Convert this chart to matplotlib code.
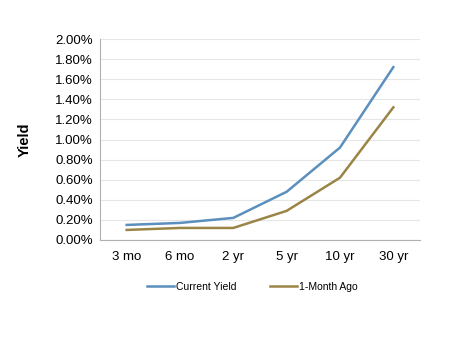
import matplotlib
matplotlib.use("Agg")
import matplotlib.pyplot as plt
from matplotlib.ticker import FuncFormatter

categories = ["3 mo", "6 mo", "2 yr", "5 yr", "10 yr", "30 yr"]
current_yield = [0.15, 0.17, 0.22, 0.48, 0.92, 1.72]
month_ago = [0.10, 0.12, 0.12, 0.29, 0.62, 1.32]

plt.rcParams['font.family'] = ['Liberation Sans', 'DejaVu Sans']

fig = plt.figure(figsize=(4.5, 3.41), dpi=100)
ax = fig.add_axes([100/450, 1-240/341, 320/450, 201/341])

x = list(range(len(categories)))
ax.plot(x, current_yield, color="#5b8fbd", lw=1.8, label="Current Yield")
ax.plot(x, month_ago, color="#9a8446", lw=1.8, label="1-Month Ago")

ax.set_xlim(-0.5, len(categories) - 0.5)
ax.set_ylim(0, 2.0)
ax.set_yticks([i * 0.2 for i in range(11)])
ax.yaxis.set_major_formatter(FuncFormatter(lambda v, p: f"{v:.2f}%"))
ax.set_xticks(x)
ax.set_xticklabels(categories)
ax.tick_params(axis='both', length=0, labelsize=9.5, colors="#000000")
ax.tick_params(axis='y', pad=5)
ax.tick_params(axis='x', pad=8)
ax.grid(axis='y', color="#e6e6e6", lw=0.8)
ax.set_axisbelow(True)
for s in ['top', 'right']:
    ax.spines[s].set_visible(False)
for s in ['left', 'bottom']:
    ax.spines[s].set_color("#b0b0b0")
    ax.spines[s].set_linewidth(0.8)

fig.text(25/450, 1-140/341, "Yield", rotation=90, fontsize=10.5, fontweight='bold', ha='center', va='center')

fig.legend(loc='center', bbox_to_anchor=(252/450, 1-287/341), ncol=2, frameon=False,
           fontsize=7.5, handlelength=2.6, handletextpad=0.2, columnspacing=3.2)

fig.savefig("out.png", dpi=100)
